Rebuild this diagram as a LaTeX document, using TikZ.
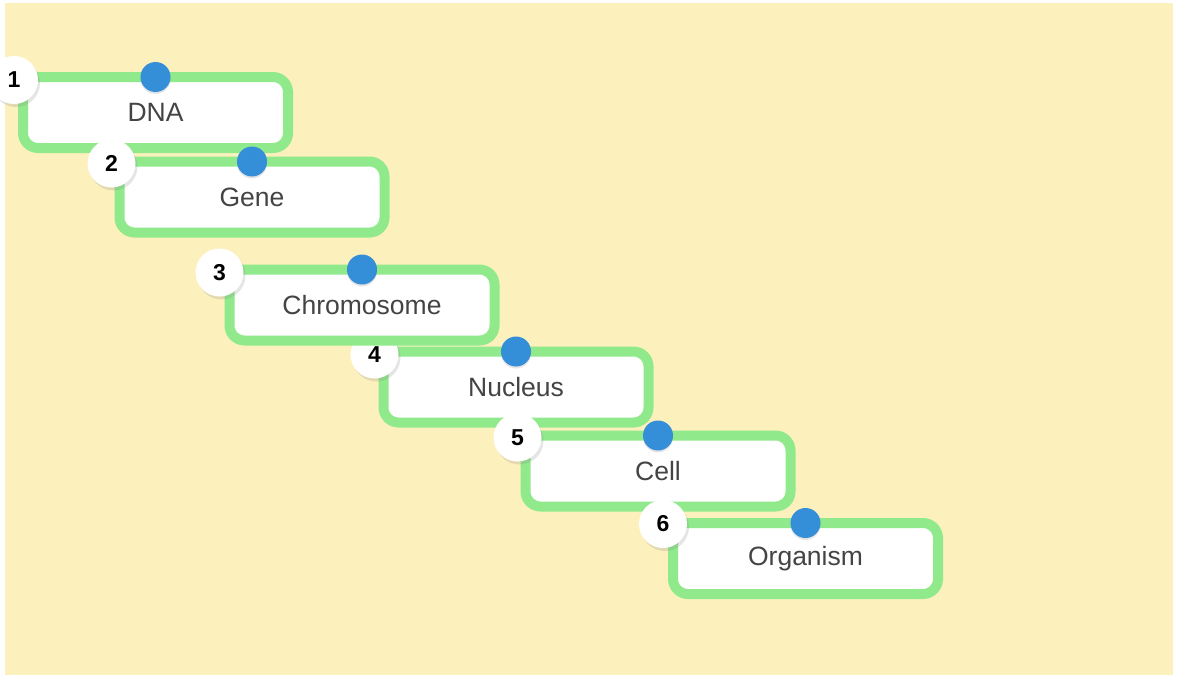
\documentclass[tikz,border=0pt]{standalone}
\usepackage{fontspec}
\setmainfont{Liberation Sans}
\usepackage{xcolor}
\usetikzlibrary{positioning, shadows}

\definecolor{paper}{RGB}{252,240,189}
\definecolor{leafgreen}{RGB}{144,234,140}
\definecolor{pinblue}{RGB}{52,142,216}
\definecolor{labelgray}{RGB}{68,68,68}

\begin{document}
\begin{tikzpicture}[
    x=1pt, y=-1pt,
    level/.style={draw=leafgreen, line width=10pt, fill=white, rounded corners=15pt,
      minimum width=265pt, minimum height=71pt, text=labelgray,
      font=\fontsize{26.5}{31}\selectfont,
      drop shadow={opacity=0.22, shadow xshift=2pt, shadow yshift=-4pt}},
    pin/.style={circle, fill=pinblue, minimum size=30pt, inner sep=0pt,
      drop shadow={opacity=0.2, shadow xshift=0pt, shadow yshift=-2pt}},
    num/.style={circle, fill=white, minimum size=48pt, inner sep=0pt,
      font=\bfseries\fontsize{23}{27}\selectfont,
      drop shadow={opacity=0.2, shadow xshift=2pt, shadow yshift=-3pt}},
  ]

  % ---- Background ----
  \useasboundingbox (0,0) rectangle (1177,677);
  \fill[white] (0,0) rectangle (1177,677);
  \fill[paper] (5,3) rectangle (1173,675);

  % ---- Nucleus box first, its number tucks under Chromosome ----
  \node[level] (nucleus) at (516,387) {Nucleus};
  \node[num] (n4) at ([xshift=-4pt, yshift=-8pt]nucleus.north west) {4};

  % ---- Levels ----
  \node[level] (dna) at (155.5,112.5) {DNA};
  \node[level] (gene) at (252,197) {Gene};
  \node[level] (chrom) at (362,305) {Chromosome};
  \node[level] (cell) at (658,471) {Cell};
  \node[level] (organism) at (805.5,558.5) {Organism};

  % ---- Pins on top edges ----
  \node[pin] (p1) at ([yshift=-5pt]dna.north) {};
  \node[pin] (p2) at ([yshift=-5pt]gene.north) {};
  \node[pin] (p3) at ([yshift=-5pt]chrom.north) {};
  \node[pin] (p4) at ([yshift=-5pt]nucleus.north) {};
  \node[pin] (p5) at ([yshift=-5pt]cell.north) {};
  \node[pin] (p6) at ([yshift=-5pt]organism.north) {};

  % ---- Step numbers ----
  \node[num] (n1) at ([xshift=-4pt, yshift=-8pt]dna.north west) {1};
  \node[num] (n2) at ([xshift=-3pt, yshift=-7pt]gene.north west) {2};
  \node[num] (n3) at ([xshift=-5pt, yshift=-8pt]chrom.north west) {3};
  \node[num] (n5) at ([xshift=-3pt, yshift=-7pt]cell.north west) {5};
  \node[num] (n6) at ([xshift=-5pt, yshift=-6pt]organism.north west) {6};

\end{tikzpicture}
\end{document}
